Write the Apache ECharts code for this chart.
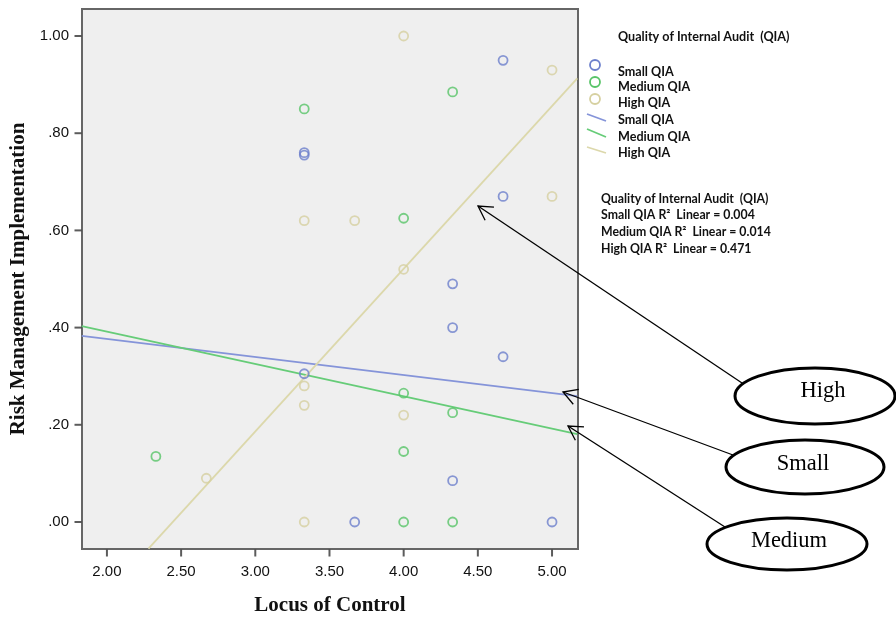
<!DOCTYPE html>
<html>
<head>
<meta charset="utf-8">
<script src="https://cdn.jsdelivr.net/npm/echarts@6/dist/echarts.min.js"></script>
<style>html,body{margin:0;padding:0;background:#fff;}#c{width:896px;height:618px;}</style>
</head>
<body>
<div id="c"></div>
<script>
// ---- data ----
const xTicks = [2.0, 2.5, 3.0, 3.5, 4.0, 4.5, 5.0];
const yTicks = [0, 0.2, 0.4, 0.6, 0.8, 1.0];

const smallX  = [4.67, 3.33, 3.33, 4.67, 4.33, 4.33, 4.67, 3.33, 4.33, 3.67, 5.00];
const smallY  = [0.95, 0.76, 0.755, 0.67, 0.49, 0.40, 0.34, 0.305, 0.085, 0.00, 0.00];
const mediumX = [3.33, 4.33, 4.00, 4.00, 4.33, 4.00, 2.33, 4.00, 4.33];
const mediumY = [0.85, 0.885, 0.625, 0.265, 0.225, 0.145, 0.135, 0.00, 0.00];
const highX   = [4.00, 5.00, 5.00, 3.33, 3.67, 4.00, 3.33, 3.33, 4.00, 2.67, 3.33];
const highY   = [1.00, 0.93, 0.67, 0.62, 0.62, 0.52, 0.28, 0.24, 0.22, 0.09, 0.00];

const smallFitX  = [1.83, 5.17];
const smallFitY  = [0.383, 0.259];
const mediumFitX = [1.83, 5.17];
const mediumFitY = [0.403, 0.181];
const highFitX   = [2.28, 5.17];
const highFitY   = [-0.055, 0.913];

const legendTitle = 'Quality of Internal Audit  (QIA)';
const groupNames = ['Small QIA', 'Medium QIA', 'High QIA'];
const r2Lines = ['Quality of Internal Audit  (QIA)', 'Small QIA R\u00B2  Linear = 0.004', 'Medium QIA R\u00B2  Linear = 0.014', 'High QIA R\u00B2  Linear = 0.471'];
const calloutNames = ['High', 'Small', 'Medium'];

// ---- styles ----
const markerCol = ['#6d80cc', '#58c468', '#d6d0a0'];
const lineCol   = ['#8594d9', '#66cc78', '#dcd8ab'];
const zip = (a, b) => a.map((v, i) => [v, b[i]]);
const X_MIN = 1.832, X_MAX = 5.175, Y_MIN = -0.0556, Y_MAX = 1.0556;

function scatter(name, xs, ys, c) {
  return { name, type: 'scatter', data: zip(xs, ys), symbol: 'circle', symbolSize: 9,
    itemStyle: { color: 'rgba(0,0,0,0)', borderColor: c, borderWidth: 1.8 }, z: 3, silent: true };
}
function fit(name, xs, ys, c) {
  return { name, type: 'line', data: zip(xs, ys), symbol: 'none',
    lineStyle: { color: c, width: 1.8 }, z: 2, silent: true };
}
// outward axis ticks, positioned by the axis scales
function ticks(name, data, size, offset) {
  return { name, type: 'scatter', data, symbol: 'rect', symbolSize: size, symbolOffset: offset,
    itemStyle: { color: '#333' }, clip: false, silent: true, z: 6 };
}

const chart = echarts.init(document.getElementById('c'), null, { renderer: 'canvas' });

const legendFont = 'Lato, "Liberation Sans", sans-serif';
const graphics = [];
graphics.push({ type: 'text', x: 618, y: 37, style: { text: legendTitle, font: 'bold 12.6px ' + legendFont, fill: '#111', verticalAlign: 'middle' } });
const circY = [65, 82, 99];
const textY = [72, 87, 103, 120, 137, 153];
for (let i = 0; i < 3; i++) {
  graphics.push({ type: 'circle', shape: { cx: 595, cy: circY[i], r: 5 }, style: { fill: 'none', stroke: markerCol[i], lineWidth: 1.8 } });
}
const legLines = [[587, 114, 606, 121], [587, 129, 606, 137], [587, 147, 606, 153]];
for (let i = 0; i < 3; i++) {
  const l = legLines[i];
  graphics.push({ type: 'line', shape: { x1: l[0], y1: l[1], x2: l[2], y2: l[3] }, style: { stroke: lineCol[i], lineWidth: 1.8 } });
}
for (let i = 0; i < 6; i++) {
  graphics.push({ type: 'text', x: 618, y: textY[i], style: { text: groupNames[i % 3], font: 'bold 12.6px ' + legendFont, fill: '#111', verticalAlign: 'middle' } });
}
const r2Y = [199, 215, 232, 249];
r2Lines.forEach((t, i) => {
  graphics.push({ type: 'text', x: 601, y: r2Y[i], style: { text: t, font: 'bold 12.3px ' + legendFont, fill: '#111', verticalAlign: 'middle' } });
});

// callouts
const ell = [[815, 396, 80, 28], [805, 467, 79, 27], [787, 544, 80, 26]];
const labelPos = [[823, 391], [803, 464], [789, 541]];
const arrows = [[742, 383, 478, 206], [733, 455, 563, 392], [725, 527, 568, 426]];
for (let i = 0; i < 3; i++) {
  const a = arrows[i];
  graphics.push({ type: 'line', shape: { x1: a[0], y1: a[1], x2: a[2], y2: a[3] }, style: { stroke: '#000', lineWidth: 1.3 }, z: 10 });
  const ang = Math.atan2(a[1] - a[3], a[0] - a[2]);
  const L = 16, spread = 0.52;
  const p1 = [a[2] + L * Math.cos(ang - spread), a[3] + L * Math.sin(ang - spread)];
  const p2 = [a[2] + L * Math.cos(ang + spread), a[3] + L * Math.sin(ang + spread)];
  graphics.push({ type: 'polyline', shape: { points: [p1, [a[2], a[3]], p2] }, style: { stroke: '#000', lineWidth: 1.3, fill: null }, z: 10 });
  const e = ell[i];
  graphics.push({ type: 'ellipse', shape: { cx: e[0], cy: e[1], rx: e[2], ry: e[3] }, style: { fill: '#fff', stroke: '#000', lineWidth: 3 }, z: 11 });
  graphics.push({ type: 'text', x: labelPos[i][0], y: labelPos[i][1], style: { text: calloutNames[i], font: '22.5px "Liberation Serif", serif', fill: '#000', align: 'center', verticalAlign: 'middle' }, z: 12 });
}

const option = {
  animation: false,
  backgroundColor: '#fff',
  grid: { left: 82, top: 9, right: 318, bottom: 69, show: true, backgroundColor: '#efefef', borderColor: '#666', borderWidth: 2, containLabel: false, outerBoundsMode: 'none' },
  xAxis: {
    type: 'value', min: X_MIN, max: X_MAX,
    name: 'Locus of Control', nameLocation: 'middle', nameGap: 46,
    nameTextStyle: { fontFamily: '"Liberation Serif", serif', fontWeight: 'bold', fontSize: 21, color: '#111' },
    axisLine: { show: true, onZero: false, lineStyle: { color: '#666', width: 2 } },
    axisTick: { show: false },
    axisLabel: { customValues: xTicks, formatter: v => v.toFixed(2), margin: 15, fontFamily: '"Liberation Sans", Arial, sans-serif', fontSize: 15, color: '#111' },
    splitLine: { show: false }
  },
  yAxis: {
    type: 'value', min: Y_MIN, max: Y_MAX,
    name: 'Risk Management Implementation', nameLocation: 'middle', nameGap: 50, nameRotate: 90,
    nameTextStyle: { fontFamily: '"Liberation Serif", serif', fontWeight: 'bold', fontSize: 21, color: '#111' },
    axisLine: { show: true, onZero: false, lineStyle: { color: '#666', width: 2 } },
    axisTick: { show: false },
    axisLabel: { customValues: yTicks, formatter: v => v >= 1 ? v.toFixed(2) : v.toFixed(2).replace(/^0/, ''), margin: 13, fontFamily: '"Liberation Sans", Arial, sans-serif', fontSize: 15, color: '#111' },
    splitLine: { show: false }
  },
  series: [
    fit('Small QIA fit', smallFitX, smallFitY, lineCol[0]),
    fit('Medium QIA fit', mediumFitX, mediumFitY, lineCol[1]),
    fit('High QIA fit', highFitX, highFitY, lineCol[2]),
    scatter('Small QIA', smallX, smallY, markerCol[0]),
    scatter('Medium QIA', mediumX, mediumY, markerCol[1]),
    scatter('High QIA', highX, highY, markerCol[2]),
    ticks('x ticks', xTicks.map(v => [v, Y_MIN]), [2, 7], [0, 4]),
    ticks('y ticks', yTicks.map(v => [X_MIN, v]), [7, 2], [-4, 0])
  ],
  graphic: graphics
};
chart.setOption(option);
</script>
</body>
</html>
